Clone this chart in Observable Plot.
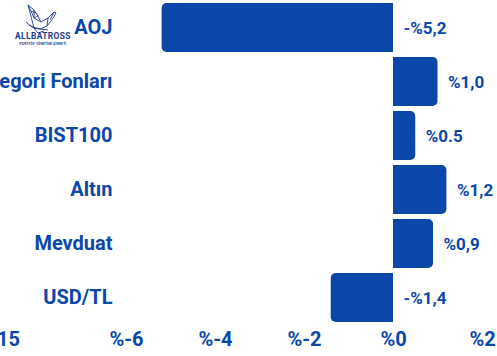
<!DOCTYPE html>
<html>
<head>
<meta charset="utf-8">
<script src="https://cdn.jsdelivr.net/npm/d3@7"></script>
<script src="https://cdn.jsdelivr.net/npm/@observablehq/plot@0.6"></script>
<style>
  html, body { margin: 0; padding: 0; background: #fff; }
  #wrap { position: relative; width: 497px; height: 356px; overflow: hidden; }
  #logo { position: absolute; left: 14px; top: 2px; }
</style>
</head>
<body>
<div id="wrap">
  <div id="chart"></div>
  <svg id="logo" width="64" height="46" viewBox="0 0 64 46">
    <g fill="none" stroke="#22398c" stroke-width="0.9" stroke-linejoin="round">
      <path d="M14 3 L20 8 L24 14 L27 20 L34 16 L40 10 L42 11 L38 18 L33 24 L26 27 L20 26 Z"/>
      <path d="M14 3 L17 9 L20 16 L24 14 M20 8 L20 16 L27 20 M17 9 L22 11 M34 16 L33 24 M40 10 L36 18"/>
      <path d="M12 20 L18 25 L26 27 L34 28 M15 23 L22 27 M20 26 L24 31 L30 29"/>
    </g>
    <text x="29" y="37" text-anchor="middle" font-family="Roboto, sans-serif" font-weight="700" font-size="8.4" fill="#22398c" letter-spacing="0.4">ALLBATROSS</text>
    <text x="29" y="42.5" text-anchor="middle" font-family="Roboto, sans-serif" font-weight="700" font-size="3.2" fill="#22398c" letter-spacing="0.2">PORTFÖY YÖNETİMİ ŞİRKETİ</text>
  </svg>
</div>
<script>
const categories = ["AOJ", "Kategori Fonları", "BIST100", "Altın", "Mevduat", "USD/TL"];
const values = [-5.2, 1.0, 0.5, 1.2, 0.9, -1.4];
const valueLabels = ["-%5,2", "%1,0", "%0.5", "%1,2", "%0,9", "-%1,4"];
const tickValues = [-6, -4, -2, 0, 2];
const tickLabels = ["%-6", "%-4", "%-2", "%0", "%2"];
const extraTickValue = [-8.65];
const extraTickLabel = ["15"];

const data = categories.map((c, i) => ({category: c, value: values[i], label: valueLabels[i]}));
const ticks = tickValues.map((v, i) => ({v, label: tickLabels[i]}));
const extra = extraTickValue.map((v, i) => ({v, label: extraTickLabel[i]}));

const blue = "#0a47a9";
const grid = "#c8d6ef";
const font = "Roboto, sans-serif";

const chart = Plot.plot({
  width: 497,
  height: 356,
  marginLeft: 120,
  marginRight: 0,
  marginTop: 0,
  marginBottom: 32,
  style: {fontFamily: font, background: "transparent", overflow: "visible"},
  x: {domain: [-6.135, 2.337], axis: null},
  y: {domain: categories, paddingInner: 0.1, paddingOuter: 0.05, axis: null},
  marks: [
    Plot.ruleX(ticks, {x: "v", stroke: grid, strokeWidth: 1.2, y1: 0, y2: 322, clip: false}),
    Plot.barX(data, {x1: 0, x2: "value", y: "category", fill: blue, rx: 5}),
    Plot.barX(data, {x1: 0, x2: d => d.value / 2, y: "category", fill: blue}),
    Plot.text(data, {x: d => Math.max(0, d.value), y: "category", text: "label", dx: 10, dy: 1, textAnchor: "start", fill: blue, fontWeight: 700, fontSize: 17}),
    Plot.axisY({domain: categories, tickSize: 0, tickPadding: 8, fontSize: 20, fontWeight: 700, color: blue, label: null}),
    Plot.text(ticks, {x: "v", text: "label", frameAnchor: "bottom", lineAnchor: "middle", dy: 15, fill: blue, fontWeight: 700, fontSize: 20}),
    Plot.text(extra, {x: "v", text: "label", frameAnchor: "bottom", lineAnchor: "middle", dy: 15, fill: blue, fontWeight: 700, fontSize: 20, clip: false})
  ]
});
document.getElementById("chart").appendChild(chart);
</script>
</body>
</html>
